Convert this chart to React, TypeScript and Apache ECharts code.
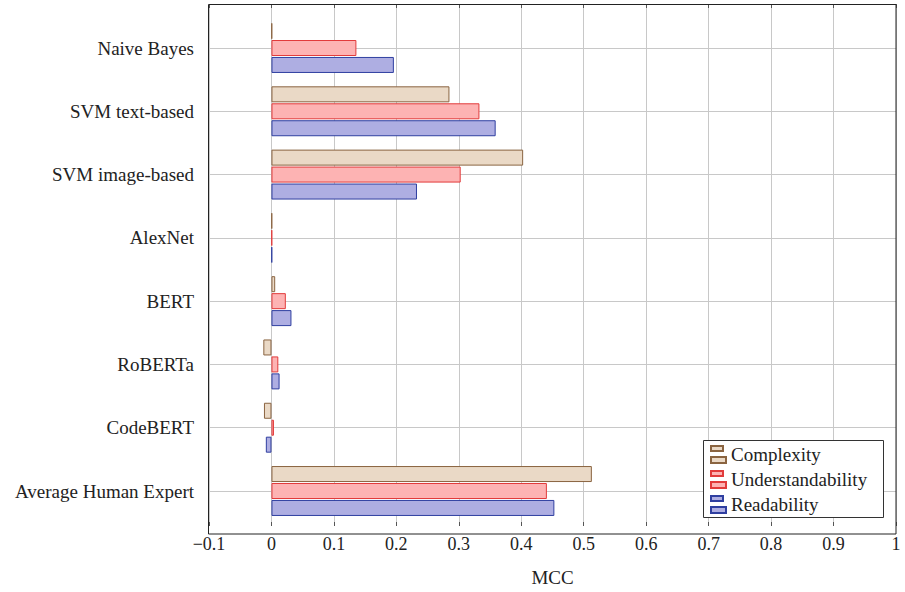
import React, { useEffect, useRef } from "react";
import * as echarts from "echarts";

const categories = [
  "Naive Bayes",
  "SVM text-based",
  "SVM image-based",
  "AlexNet",
  "BERT",
  "RoBERTa",
  "CodeBERT",
  "Average Human Expert",
];
const complexity = [0.001, 0.285, 0.403, 0.001, 0.006, -0.013, -0.012, 0.513];
const understandability = [0.136, 0.333, 0.303, 0.001, 0.023, 0.011, 0.004, 0.441];
const readability = [0.196, 0.359, 0.233, 0.001, 0.032, 0.013, -0.009, 0.453];
const seriesNames = ["Complexity", "Understandability", "Readability"];

const FONT = "'Liberation Serif', 'Times New Roman', serif";
const TEXT = "#222";
const GRIDC = "#c8c8c8";
const ICON = "path://M0,0H12V5H0Z M0,11H15V17H0Z";

const fmt = (v: number) => {
  if (Math.abs(v) < 1e-9) return "0";
  if (Math.abs(v - 1) < 1e-9) return "1";
  const s = Math.abs(v).toFixed(1);
  return v < 0 ? "\u2212" + s : s;
};

export default function App() {
  const ref = useRef<HTMLDivElement>(null);
  useEffect(() => {
    if (!ref.current) return;
    const chart = echarts.init(ref.current, undefined, { renderer: "svg" });
    const styles = [
      { color: "#ead9c6", borderColor: "#8a6440" },
      { color: "#fdb3b3", borderColor: "#e23b3b" },
      { color: "#aeaee2", borderColor: "#2f3fa0" },
    ];
    const datas = [complexity, understandability, readability];
    chart.setOption({
      animation: false,
      grid: [
        { left: 209, right: 9, top: 4, bottom: 58 },
        { left: 209, right: 9, top: 48, bottom: 101 },
      ],
      xAxis: [
        {
          type: "value",
          gridIndex: 0,
          min: -0.1,
          max: 1,
          interval: 0.1,
          axisLine: { show: false },
          axisTick: { show: true, inside: true, length: 4, lineStyle: { color: "#555" } },
          splitLine: { show: true, lineStyle: { color: GRIDC, width: 1 } },
          axisLabel: {
            margin: 9,
            fontFamily: FONT,
            fontSize: 18,
            color: TEXT,
            formatter: fmt,
          },
          name: "MCC",
          nameLocation: "middle",
          nameGap: 42,
          nameTextStyle: { fontFamily: FONT, fontSize: 19, color: TEXT },
        },
        {
          type: "value",
          gridIndex: 1,
          min: -0.1,
          max: 1,
          interval: 0.1,
          show: false,
        },
        {
          type: "value",
          gridIndex: 0,
          position: "top",
          min: -0.1,
          max: 1,
          interval: 0.1,
          axisLine: { show: false },
          axisLabel: { show: false },
          splitLine: { show: false },
          axisTick: { show: true, inside: true, length: 4, lineStyle: { color: "#555" } },
        },
      ],
      yAxis: [
        { type: "value", gridIndex: 0, show: false, min: 0, max: 1 },
        {
          type: "category",
          gridIndex: 1,
          data: categories,
          inverse: true,
          boundaryGap: false,
          axisLine: { show: false },
          axisTick: { show: false },
          splitLine: { show: true, lineStyle: { color: GRIDC, width: 1 } },
          axisLabel: {
            margin: 15,
            fontFamily: FONT,
            fontSize: 19,
            color: TEXT,
          },
        },
      ],
      legend: {
        orient: "vertical",
        left: 710,
        top: 445,
        padding: 0,
        itemWidth: 15,
        itemHeight: 17,
        itemGap: 6,
        selectedMode: false,
        textStyle: { fontFamily: FONT, fontSize: 19, color: TEXT, lineHeight: 17 },
        data: seriesNames.map((n) => ({ name: n, icon: ICON })),
      },
      graphic: [
        {
          type: "rect",
          z: 3,
          shape: { x: 703.5, y: 440.5, width: 180, height: 77 },
          style: { fill: "#fff", stroke: "#333", lineWidth: 1 },
        },
        {
          type: "rect",
          z: 10,
          shape: { x: 208.5, y: 4.5, width: 687.5, height: 529.5 },
          style: { fill: "none", stroke: "#222", lineWidth: 1 },
        },
      ],
      series: seriesNames.map((n, i) => ({
        type: "bar",
        name: n,
        xAxisIndex: 1,
        yAxisIndex: 1,
        data: datas[i],
        barWidth: 16,
        barGap: "6%",
        clip: false,
        itemStyle: { ...styles[i], borderWidth: 1 },
      })),
    });
    return () => chart.dispose();
  }, []);
  return <div ref={ref} style={{ width: 905, height: 592, position: "absolute", left: 0, top: 0 }} />;
}
